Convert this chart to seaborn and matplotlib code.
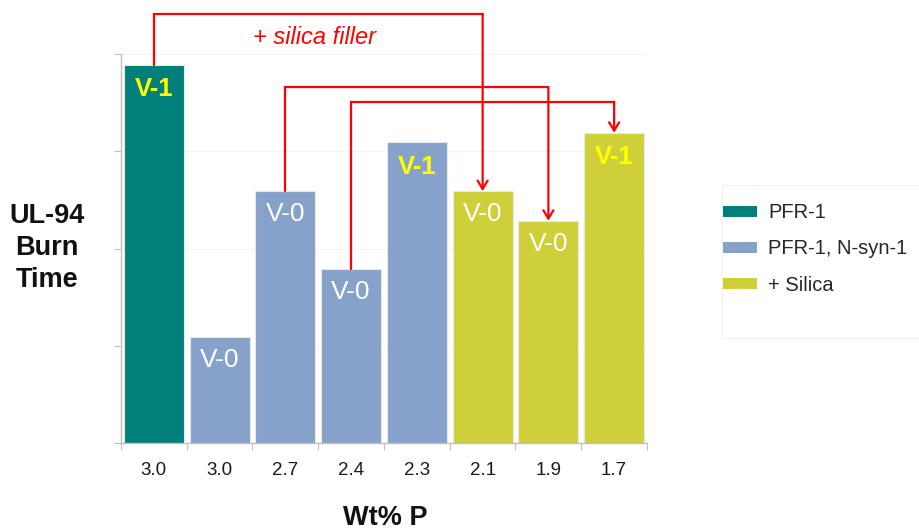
import matplotlib
matplotlib.use("Agg")
import matplotlib.pyplot as plt
from matplotlib.patches import Rectangle
import seaborn as sns
import pandas as pd

# Burn-time results by phosphorus loading
wt_p_labels = ["3.0", "3.0", "2.7", "2.4", "2.3", "2.1", "1.9", "1.7"]
burn_time = [3.885, 1.09, 2.59, 1.79, 3.09, 2.59, 2.285, 3.19]
ratings = ["V-1", "V-0", "V-0", "V-0", "V-1", "V-0", "V-0", "V-1"]
groups = ["PFR-1", "PFR-1, N-syn-1", "PFR-1, N-syn-1", "PFR-1, N-syn-1",
          "PFR-1, N-syn-1", "+ Silica", "+ Silica", "+ Silica"]
group_order = ["PFR-1", "PFR-1, N-syn-1", "+ Silica"]
group_colors = ["#007F7B", "#86A2CA", "#CFCF3A"]

# Silica-filler comparisons: (from bar, to bar, connector height)
links_from = [0, 2, 3]
links_to = [5, 6, 7]
link_level = [4.41, 3.66, 3.51]

sns.set_theme(style="white")
plt.rcParams["font.family"] = ["Liberation Sans", "DejaVu Sans"]

df = pd.DataFrame({"pos": list(range(len(burn_time))),
                   "burn": burn_time, "group": groups})

fig = plt.figure(figsize=(9.2, 5.31), dpi=100)
ax = fig.add_axes([121 / 920, 88 / 531, 526 / 920, 389 / 531])

sns.barplot(data=df, x="pos", y="burn", hue="group", hue_order=group_order,
            palette=group_colors, dodge=False, width=0.91, ax=ax,
            edgecolor="#e8e8e8", linewidth=0.8, saturation=1)

ax.set_ylim(0, 4)
ax.set_xlim(-0.5, len(burn_time) - 0.5)
ax.set_yticks([0, 1, 2, 3, 4])
ax.set_yticklabels([])
ax.yaxis.grid(True, color="#f4f4f4", linewidth=0.8)
ax.set_axisbelow(True)

# category boundaries carry the tick marks, centres carry the labels
ax.set_xticks([i - 0.5 for i in range(len(burn_time) + 1)])
ax.set_xticklabels([])
ax.set_xticks(list(range(len(burn_time))), minor=True)
ax.set_xticklabels(wt_p_labels, minor=True, fontsize=13.5, color="#1a1a1a")
ax.tick_params(axis="x", which="major", length=5, width=0.8, color="#bfbfbf",
               direction="out", bottom=True)
ax.tick_params(axis="x", which="minor", length=0, pad=14)
ax.tick_params(axis="y", which="major", length=5, width=0.8, color="#bfbfbf",
               direction="out", left=True)
for side in ["top", "right"]:
    ax.spines[side].set_visible(False)
for side in ["left", "bottom"]:
    ax.spines[side].set_color("#bfbfbf")
    ax.spines[side].set_linewidth(1.0)
ax.set_xlabel("")
ax.set_ylabel("")

# rating labels inside bars
for i, (v, r) in enumerate(zip(burn_time, ratings)):
    if r == "V-1":
        ax.annotate(r, (i, v), xytext=(0, -17.5), textcoords="offset points",
                    ha="center", va="center", fontsize=18.5,
                    fontweight="bold", color="#FFFF00")
    else:
        ax.annotate(r, (i, v), xytext=(0, -16.5), textcoords="offset points",
                    ha="center", va="center", fontsize=19, color="white")

# connectors with arrows
red = "#FF0000"
for a, b, lvl in zip(links_from, links_to, link_level):
    ax.plot([a, a, b], [burn_time[a], lvl, lvl], color=red,
            linewidth=1.6, clip_on=False, solid_joinstyle="miter")
    ax.annotate("", xy=(b, burn_time[b]), xytext=(b, lvl),
                arrowprops=dict(arrowstyle="->,head_length=0.5,head_width=0.3",
                                color=red, lw=1.6,
                                shrinkA=0, shrinkB=0),
                annotation_clip=False)

ax.text(2.45, 4.17, "+ silica filler", ha="center", va="center",
        fontsize=17, style="italic", color=red, clip_on=False)

# axis titles
fig.text(47 / 920, 1 - 248 / 531, "UL-94\nBurn\nTime", ha="center",
         va="center", multialignment="center", fontsize=19.5,
         fontweight="bold", linespacing=1.32, color="#111111")
fig.text(385 / 920, 1 - 525 / 531, "Wt% P", ha="center", va="baseline",
         fontsize=19.5, fontweight="bold", color="#111111")

# legend box, drawn beneath the axes and legend
fig.patches.append(Rectangle((722 / 920, 1 - 338 / 531), 200 / 920, 153 / 531,
                             transform=fig.transFigure, facecolor="white",
                             edgecolor="#f0f0f0", linewidth=0.8, zorder=-1))
handles, labels = ax.get_legend_handles_labels()
leg = ax.legend(handles, labels, loc="center left",
                bbox_to_anchor=(719 / 920, 1 - 249 / 531),
                bbox_transform=fig.transFigure, frameon=False,
                fontsize=14.5, handlelength=1.7, handleheight=0.45,
                handletextpad=0.55, labelspacing=0.85, borderpad=0.2,
                borderaxespad=0)
for h in leg.legend_handles:
    h.set_edgecolor("none")

fig.savefig("out.png", dpi=100)
